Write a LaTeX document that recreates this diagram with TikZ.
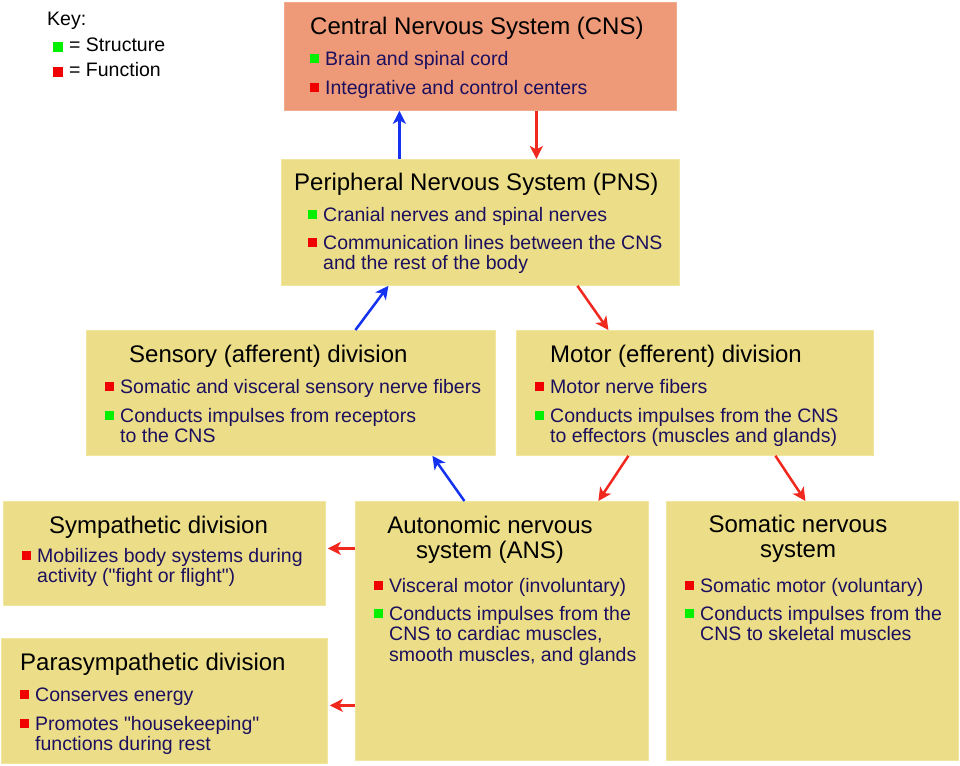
\documentclass[tikz,border=0pt]{standalone}
\usepackage{fontspec}
\setmainfont{Liberation Sans}[Ligatures=TeXOff]
\usepackage{array}
\usetikzlibrary{arrows.meta,positioning}
\definecolor{boxfill}{RGB}{236,222,136}
\definecolor{boxedge}{RGB}{240,230,160}
\definecolor{cnsfill}{RGB}{238,153,120}
\definecolor{cnsedge}{RGB}{242,170,140}
\definecolor{navy}{RGB}{28,16,94}
\definecolor{arrowblue}{RGB}{20,50,240}
\definecolor{arrowred}{RGB}{240,40,30}
\definecolor{keygreen}{RGB}{0,240,0}
\definecolor{keyred}{RGB}{240,0,0}
\newcommand{\sqmark}[1]{\textcolor{#1}{\rule[2.5pt]{9pt}{9pt}}}
\newcommand{\bul}[2]{\makebox[0pt][r]{\sqmark{#1}\hspace{6pt}}\begin{tabular}[t]{@{}l@{}}#2\end{tabular}}
\newcommand{\twolines}[1]{\begin{tabular}[t]{@{}c@{}}#1\end{tabular}}
\tikzset{
  x=1pt, y=-1pt,
  >={Stealth[length=13pt,width=13pt,inset=3.5pt]},
  divbox/.style={rectangle, fill=boxfill, draw=boxedge, line width=0.8pt, anchor=north west, inner sep=0pt},
  cnsbox/.style={divbox, fill=cnsfill, draw=cnsedge},
  title/.style={anchor=base west, inner sep=0pt, font=\fontsize{24}{25}\selectfont, text=black},
  ctitle/.style={title, anchor=base},
  item/.style={anchor=base west, inner sep=0pt, font=\fontsize{19.5}{20.5}\selectfont, text=navy},
  keytext/.style={item, text=black},
  blueline/.style={draw=arrowblue, line width=2.5pt},
  redline/.style={draw=arrowred, line width=2.5pt}
}
\begin{document}
\begin{tikzpicture}
                   \fill[white] (0,0) rectangle (960,765);
                   \useasboundingbox (0,0) rectangle (960,765);
                   % key
                   \node[keytext] (keyhead) at (47,26) {Key:};
                   \node[keytext] (keystruct) at (53,52) {\textcolor{keygreen}{\rule{10pt}{10pt}}\hspace{6pt}= Structure};
                   \node[keytext] (keyfunc) at (53,77) {\textcolor{keyred}{\rule{10pt}{10pt}}\hspace{6pt}= Function};
                   % boxes
                   \node[cnsbox, minimum width=392pt, minimum height=108pt] (cns) at (284,2) {};
                   \node[divbox, minimum width=398pt, minimum height=126pt] (pns) at (281,159) {};
                   \node[divbox, minimum width=409pt, minimum height=125pt] (sensory) at (86,330) {};
                   \node[divbox, minimum width=357pt, minimum height=125pt] (motor) at (516,330) {};
                   \node[divbox, minimum width=322pt, minimum height=104pt] (symp) at (3,501) {};
                   \node[divbox, minimum width=326pt, minimum height=125pt] (parasymp) at (1,638) {};
                   \node[divbox, minimum width=293pt, minimum height=259pt] (ans) at (355,501) {};
                   \node[divbox, minimum width=292pt, minimum height=259pt] (somatic) at (666,501) {};
                   % texts
                   \node[title] (cnstitle) at (310,35) {Central Nervous System (CNS)};
                   \node[item] (cnsa) at (325,66) {\bul{keygreen}{Brain and spinal cord}};
                   \node[item] (cnsb) at (325,95) {\bul{keyred}{Integrative and control centers}};
                   \node[title] (pnstitle) at (294,190) {Peripheral Nervous System (PNS)};
                   \node[item] (pnsa) at (323,221) {\bul{keygreen}{Cranial nerves and spinal nerves}};
                   \node[item] (pnsb) at (323,249) {\bul{keyred}{Communication lines between the CNS\\and the rest of the body}};
                   \node[title] (sensorytitle) at (129,362) {Sensory (afferent) division};
                   \node[item] (sensorya) at (120,393) {\bul{keyred}{Somatic and visceral sensory nerve fibers}};
                   \node[item] (sensoryb) at (120,422) {\bul{keygreen}{Conducts impulses from receptors\\to the CNS}};
                   \node[title] (motortitle) at (550,362) {Motor (efferent) division};
                   \node[item] (motora) at (550,393) {\bul{keyred}{Motor nerve fibers}};
                   \node[item] (motorb) at (550,422) {\bul{keygreen}{Conducts impulses from the CNS\\to effectors (muscles and glands)}};
                   \node[title] (symptitle) at (49,533) {Sympathetic division};
                   \node[item] (sympa) at (37,562) {\bul{keyred}{Mobilizes body systems during\\activity ("fight or flight")}};
                   \node[title] (parasymptitle) at (20,670) {Parasympathetic division};
                   \node[item] (parasympa) at (35,701) {\bul{keyred}{Conserves energy}};
                   \node[item] (parasympb) at (35,730) {\bul{keyred}{Promotes "housekeeping"\\functions during rest}};
                   \node[ctitle] (anstitle) at (490,533) {\twolines{Autonomic nervous\\system (ANS)}};
                   \node[item] (ansa) at (389,592) {\bul{keyred}{Visceral motor (involuntary)}};
                   \node[item] (ansb) at (389,620) {\bul{keygreen}{Conducts impulses from the\\CNS to cardiac muscles,\\smooth muscles, and glands}};
                   \node[ctitle] (somatictitle) at (798,532) {\twolines{Somatic nervous\\system}};
                   \node[item] (somatica) at (700,592) {\bul{keyred}{Somatic motor (voluntary)}};
                   \node[item] (somaticb) at (700,620) {\bul{keygreen}{Conducts impulses from the\\CNS to skeletal muscles}};
                   % connectors
                    \path[->]
                    ([xshift=-81pt]pns.north) edge [blueline] ([xshift=-81pt]cns.south)
                    ([xshift=56pt]cns.south) edge [redline] ([xshift=56pt]pns.north)
                    ([xshift=64.5pt]sensory.north) edge [blueline] ([xshift=-92pt]pns.south)
                    ([xshift=97pt]pns.south) edge [redline] ([xshift=-86.5pt]motor.north)
                    ([xshift=-37.5pt]ans.north) edge [blueline] ([xshift=141.5pt]sensory.south)
                    ([xshift=-66.5pt]motor.south) edge [redline] ([xshift=96.5pt]ans.north)
                    ([xshift=80.5pt]motor.south) edge [redline] ([xshift=-7pt]somatic.north)
                    ([yshift=82.5pt]ans.west) edge [redline, shorten >=2pt] ([yshift=5pt]symp.east)
                    ([yshift=-74.5pt]ans.west) edge [redline, shorten >=2pt] ([yshift=-4.5pt]parasymp.east);
                \end{tikzpicture}
\end{document}
